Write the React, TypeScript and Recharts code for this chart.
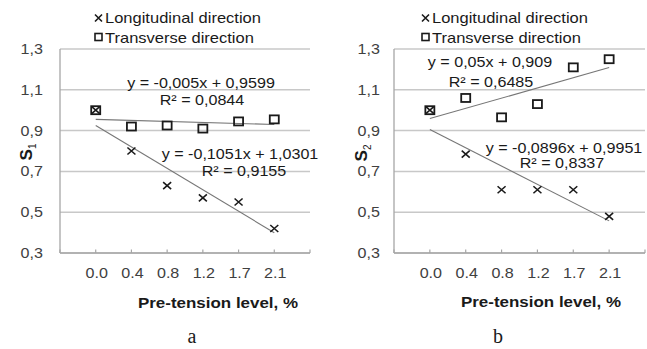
import React from "react";
import { CartesianGrid, Legend, ReferenceLine, Scatter, ScatterChart, XAxis, YAxis } from "recharts";

const categories = ["0.0", "0.4", "0.8", "1.2", "1.7", "2.1"];
const yTicks = [0.3, 0.5, 0.7, 0.9, 1.1, 1.3];
const xTicks = [0, 1, 2, 3, 4, 5, 6, 7];

// panel a (S1)
const s1Longitudinal = [1.0, 0.8, 0.63, 0.57, 0.55, 0.42];
const s1Transverse = [1.0, 0.92, 0.925, 0.91, 0.945, 0.955];
const s1LongFit = { slope: -0.1051, intercept: 1.0301, r2: 0.9155 };
const s1TransFit = { slope: -0.005, intercept: 0.9599, r2: 0.0844 };

// panel b (S2)
const s2Longitudinal = [1.0, 0.785, 0.61, 0.61, 0.61, 0.48];
const s2Transverse = [1.0, 1.06, 0.965, 1.03, 1.21, 1.25];
const s2LongFit = { slope: -0.0896, intercept: 0.9951, r2: 0.8337 };
const s2TransFit = { slope: 0.05, intercept: 0.909, r2: 0.6485 };

const SANS = '"Liberation Sans", Arial, sans-serif';
const SERIF = '"Liberation Serif", "Times New Roman", serif';
const INK = "#1a1a1a";
const AXIS = "#a6a6a6";
const GRID = "#c8c8c8";

type Fit = { slope: number; intercept: number; r2: number };

const comma = (v: number) => String(v).replace(".", ",");
const eqText = (f: Fit) => `y = ${comma(f.slope)}x + ${comma(f.intercept)}`;
const r2Text = (f: Fit) => `R² = ${comma(f.r2)}`;
const toRows = (vals: number[]) => vals.map((y, i) => ({ x: i + 1, y }));

const Cross = (props: any) => {
    const { cx, cy } = props;
    return (
        <path
            d={`M${cx - 4},${cy - 3.5}L${cx + 4},${cy + 3.5}M${cx - 4},${cy + 3.5}L${cx + 4},${cy - 3.5}`}
            stroke={INK}
            strokeWidth={1.6}
            fill="none" />
    );
};

const Square = (props: any) => {
    const { cx, cy } = props;
    return <rect x={cx - 4.5} y={cy - 4} width={9} height={8} fill="none" stroke={INK} strokeWidth={1.8} />;
};

const XTick = (props: any) => {
    const { x, y, payload } = props;
    const label = categories[payload.value - 1];
    return (
        <g>
            <line x1={x} x2={x} y1={y - 3.5} y2={y} stroke={AXIS} strokeWidth={1.2} />
            {label && (
                <text
                    transform={`translate(${x + 1},${y + 25}) scale(1.15,1)`}
                    textAnchor="middle"
                    fill="#404040"
                    fontSize={14}
                    fontFamily={SANS}>
                    {label}
                </text>
            )}
        </g>
    );
};

const YTick = (props: any) => {
    const { x, y, payload } = props;
    return (
        <text
            transform={`translate(${x},${y}) scale(1.15,1)`}
            textAnchor="end"
            dy="0.35em"
            fill="#404040"
            fontSize={14}
            fontFamily={SANS}>
            {payload.value.toFixed(1).replace(".", ",")}
        </text>
    );
};

const LegendBox = (props: any) => {
    const items = props.payload || [];
    return (
        <div style={{ fontFamily: SANS, fontSize: 15, lineHeight: "19.5px", color: INK, whiteSpace: "nowrap" }}>
            {items.map((it: any) => (
                <div key={it.value} style={{ display: "flex", alignItems: "center" }}>
                    <svg width={9} height={10} style={{ marginRight: 2 }}>
                        {String(it.value).startsWith("Long") ? (
                            <path d="M1,1.5L8,8.5M1,8.5L8,1.5" stroke={INK} strokeWidth={1.6} />
                        ) : (
                            <rect x={1} y={1.5} width={7} height={7} fill="none" stroke={INK} strokeWidth={1.6} />
                        )}
                    </svg>
                    <span style={{ display: "inline-block", transform: "scaleX(1.1)", transformOrigin: "left" }}>{it.value}</span>
                </div>
            ))}
        </div>
    );
};

type NoteProps = { x: number; baseline: number; size: number; bold?: boolean; serif?: boolean; stretch?: number; children: React.ReactNode };

function Note({ x, baseline, size, bold, serif, stretch = 1.15, children }: NoteProps) {
    return (
        <div
            style={{
                position: "absolute",
                left: x,
                top: baseline - (serif ? 0.8375 : 0.8465) * size,
                fontFamily: serif ? SERIF : SANS,
                fontSize: size,
                lineHeight: 1,
                fontWeight: bold ? "bold" : "normal",
                color: INK,
                whiteSpace: "nowrap",
                transform: `translateX(-50%) scaleX(${stretch})`
            }}>
            {children}
        </div>
    );
}

type PanelProps = {
    left: number;
    width: number;
    yAxisWidth: number;
    tickGap: number;
    longitudinal: number[];
    transverse: number[];
    longFit: Fit;
    transFit: Fit;
    legendLeft: number;
};

function Panel({ left, width, yAxisWidth, tickGap, longitudinal, transverse, longFit, transFit, legendLeft }: PanelProps) {
    const plotRight = width - (left === 0 ? 10 : 2);
    return (
        <div style={{ position: "absolute", left, top: 0 }}>
            <ScatterChart
                width={width}
                height={349}
                margin={{ top: 49, right: width - plotRight, bottom: 66, left: 0 }}>
                <CartesianGrid vertical={false} stroke={GRID} strokeWidth={1.5} />
                <XAxis
                    type="number"
                    dataKey="x"
                    domain={[0, 7]}
                    ticks={xTicks}
                    interval={0}
                    height={30}
                    tickSize={0}
                    tickMargin={0}
                    tickLine={false}
                    tick={<XTick />}
                    axisLine={{ stroke: AXIS, strokeWidth: 1.3 }} />
                <YAxis
                    type="number"
                    dataKey="y"
                    domain={[0.3, 1.3]}
                    ticks={yTicks}
                    interval={0}
                    width={yAxisWidth}
                    tickSize={0}
                    tickMargin={tickGap}
                    tickLine={false}
                    tick={<YTick />}
                    axisLine={{ stroke: AXIS, strokeWidth: 1.3 }} />
                <Legend
                    layout="vertical"
                    align="center"
                    verticalAlign="middle"
                    wrapperStyle={{ left: legendLeft, top: 8, width: "auto", height: "auto" }}
                    content={<LegendBox />} />
                <ReferenceLine
                    segment={[{ x: 1, y: transFit.intercept + transFit.slope }, { x: 6, y: transFit.intercept + transFit.slope * 6 }]}
                    stroke="#767676"
                    strokeWidth={1.1} />
                <ReferenceLine
                    segment={[{ x: 1, y: longFit.intercept + longFit.slope }, { x: 6, y: longFit.intercept + longFit.slope * 6 }]}
                    stroke="#767676"
                    strokeWidth={1.1} />
                <Scatter name="Longitudinal direction" data={toRows(longitudinal)} shape={Cross} isAnimationActive={false} />
                <Scatter name="Transverse direction" data={toRows(transverse)} shape={Square} isAnimationActive={false} />
            </ScatterChart>
        </div>
    );
}

function YTitle({ x, y, sub }: { x: number; y: number; sub: string }) {
    return (
        <div
            style={{
                position: "absolute",
                left: x,
                top: y,
                transform: "translate(-50%,-50%) rotate(-90deg)",
                fontFamily: SANS,
                fontWeight: "bold",
                fontSize: 17,
                lineHeight: 1,
                color: INK,
                whiteSpace: "nowrap"
            }}>
            S<span style={{ fontSize: 10, position: "relative", top: 4, fontWeight: "normal" }}>{sub}</span>
        </div>
    );
}

export default function App() {
    return (
        <div style={{ position: "absolute", left: 0, top: 0, width: 647, height: 349, background: "#fff", overflow: "hidden" }}>
            <Panel
                left={0}
                width={320}
                yAxisWidth={60}
                tickGap={17}
                longitudinal={s1Longitudinal}
                transverse={s1Transverse}
                longFit={s1LongFit}
                transFit={s1TransFit}
                legendLeft={94} />
            <Panel
                left={320}
                width={327}
                yAxisWidth={74}
                tickGap={14}
                longitudinal={s2Longitudinal}
                transverse={s2Transverse}
                longFit={s2LongFit}
                transFit={s2TransFit}
                legendLeft={101} />

            <Note x={201} baseline={87.5} size={14}>{eqText(s1TransFit)}</Note>
            <Note x={201.5} baseline={105} size={14}>{r2Text(s1TransFit)}</Note>
            <Note x={240} baseline={159} size={14}>{eqText(s1LongFit)}</Note>
            <Note x={243.5} baseline={176} size={14}>{r2Text(s1LongFit)}</Note>

            <Note x={490} baseline={67} size={14}>{eqText(s2TransFit)}</Note>
            <Note x={491} baseline={87} size={14}>{r2Text(s2TransFit)}</Note>
            <Note x={564} baseline={153} size={14}>{eqText(s2LongFit)}</Note>
            <Note x={562} baseline={168} size={14}>{r2Text(s2LongFit)}</Note>

            <YTitle x={26} y={152} sub="1" />
            <YTitle x={361} y={153} sub="2" />

            <Note x={218} baseline={308} size={15} bold stretch={1.13}>Pre-tension level, %</Note>
            <Note x={541} baseline={307} size={15} bold stretch={1.13}>Pre-tension level, %</Note>

            <Note x={192} baseline={343} size={20} serif stretch={1}>a</Note>
            <Note x={498} baseline={343} size={20} serif stretch={1}>b</Note>
        </div>
    );
}
